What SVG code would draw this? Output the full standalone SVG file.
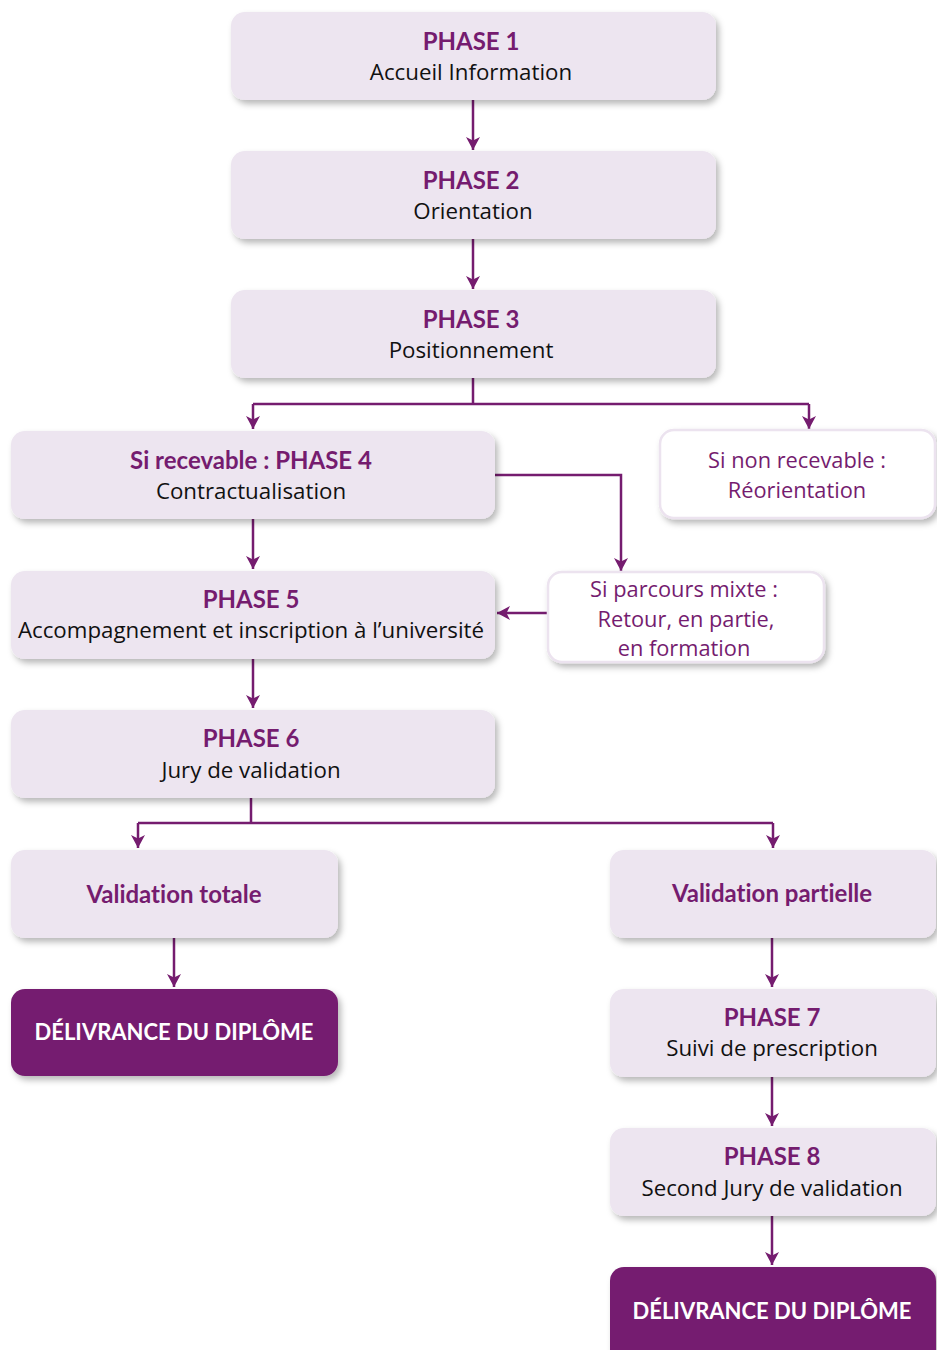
<svg xmlns="http://www.w3.org/2000/svg" width="937" height="1350" viewBox="0 0 937 1350">
<defs>
<filter id="sh" x="-10%" y="-20%" width="125%" height="150%">
<feDropShadow dx="3" dy="4" stdDeviation="3" flood-color="#000" flood-opacity="0.28"/>
</filter>
<marker id="ah" viewBox="0 0 13 14" markerWidth="13" markerHeight="14" refX="13" refY="7" orient="auto" markerUnits="userSpaceOnUse">
<path d="M0,0 L13,7 L0,14 L3.5,7 z" fill="#751c6f"/>
</marker>
</defs>
<style>
.box{fill:#ede5f0;filter:url(#sh)}
.wbox{fill:#fff;stroke:#ece3ef;stroke-width:2.5;filter:url(#sh)}
.dbox{fill:#751c6f;filter:url(#sh)}
text{font-variant-ligatures:none}
.t{font-family:Lato,"Open Sans",sans-serif;font-size:24px;font-weight:bold;fill:#751c6f;text-anchor:middle}
.s{font-family:"Open Sans",Lato,sans-serif;font-size:22.3px;fill:#111;text-anchor:middle}
.p{font-family:"Open Sans",Lato,sans-serif;font-size:21.8px;fill:#751c6f;text-anchor:middle}
.d{font-family:Lato,"Open Sans",sans-serif;font-size:22px;font-weight:bold;fill:#fff;text-anchor:middle}
.c{fill:none;stroke:#751c6f;stroke-width:2.5}
</style>
<g id="connectors">
<path class="c" d="M473,100 V150" marker-end="url(#ah)"/>
<path class="c" d="M473,239 V289" marker-end="url(#ah)"/>
<path class="c" d="M473,378 V404 M253,404 H809"/>
<path class="c" d="M253,404 V429" marker-end="url(#ah)"/>
<path class="c" d="M809,404 V429" marker-end="url(#ah)"/>
<path class="c" d="M495,475 H621 V571" marker-end="url(#ah)"/>
<path class="c" d="M253,519 V569" marker-end="url(#ah)"/>
<path class="c" d="M548,613 H497" marker-end="url(#ah)"/>
<path class="c" d="M253,659 V708" marker-end="url(#ah)"/>
<path class="c" d="M251,798 V823 M138,823 H773"/>
<path class="c" d="M138,823 V848" marker-end="url(#ah)"/>
<path class="c" d="M773,823 V848" marker-end="url(#ah)"/>
<path class="c" d="M174,938 V987" marker-end="url(#ah)"/>
<path class="c" d="M772,938 V987" marker-end="url(#ah)"/>
<path class="c" d="M772,1077 V1126" marker-end="url(#ah)"/>
<path class="c" d="M772,1216 V1265" marker-end="url(#ah)"/>
</g>
<g id="phase1"><rect class="box" x="231" y="12" width="485" height="88" rx="14"/><text class="t" x="471" y="50">PHASE 1</text><text class="s" x="471" y="80">Accueil Information</text></g>
<g id="phase2"><rect class="box" x="231" y="151" width="485" height="88" rx="14"/><text class="t" x="471" y="189">PHASE 2</text><text class="s" x="473" y="219">Orientation</text></g>
<g id="phase3"><rect class="box" x="231" y="290" width="485" height="88" rx="14"/><text class="t" x="471" y="328">PHASE 3</text><text class="s" x="471" y="358">Positionnement</text></g>
<g id="phase4"><rect class="box" x="11" y="431" width="484" height="88" rx="14"/><text class="t" x="251" y="469">Si recevable : PHASE 4</text><text class="s" x="251" y="499">Contractualisation</text></g>
<g id="non-recevable"><rect class="wbox" x="660" y="430" width="275" height="88" rx="14"/><text class="p" x="797" y="468">Si non recevable :</text><text class="p" x="797" y="498">Réorientation</text></g>
<g id="phase5"><rect class="box" x="11" y="571" width="484" height="88" rx="14"/><text class="t" x="251" y="608">PHASE 5</text><text class="s" x="251" y="638">Accompagnement et inscription à l’université</text></g>
<g id="mixte"><rect class="wbox" x="548" y="572" width="276" height="90" rx="14"/><text class="p" x="684" y="597">Si parcours mixte :</text><text class="p" x="686" y="627">Retour, en partie,</text><text class="p" x="684" y="656">en formation</text></g>
<g id="phase6"><rect class="box" x="11" y="710" width="484" height="88" rx="14"/><text class="t" x="251" y="747">PHASE 6</text><text class="s" x="251" y="778">Jury de validation</text></g>
<g id="val-totale"><rect class="box" x="11" y="850" width="327" height="88" rx="14"/><text class="t" x="174" y="903">Validation totale</text></g>
<g id="val-partielle"><rect class="box" x="610" y="850" width="326" height="88" rx="14"/><text class="t" x="772" y="902">Validation partielle</text></g>
<g id="diplome1"><rect class="dbox" x="11" y="989" width="327" height="87" rx="14"/><text class="d" x="174" y="1040">DÉLIVRANCE DU DIPLÔME</text></g>
<g id="phase7"><rect class="box" x="610" y="989" width="326" height="88" rx="14"/><text class="t" x="772" y="1026">PHASE 7</text><text class="s" x="772" y="1056">Suivi de prescription</text></g>
<g id="phase8"><rect class="box" x="610" y="1128" width="326" height="88" rx="14"/><text class="t" x="772" y="1165">PHASE 8</text><text class="s" x="772" y="1196">Second Jury de validation</text></g>
<g id="diplome2"><rect class="dbox" x="610" y="1267" width="326" height="100" rx="14"/><text class="d" x="772" y="1319">DÉLIVRANCE DU DIPLÔME</text></g>
</svg>
